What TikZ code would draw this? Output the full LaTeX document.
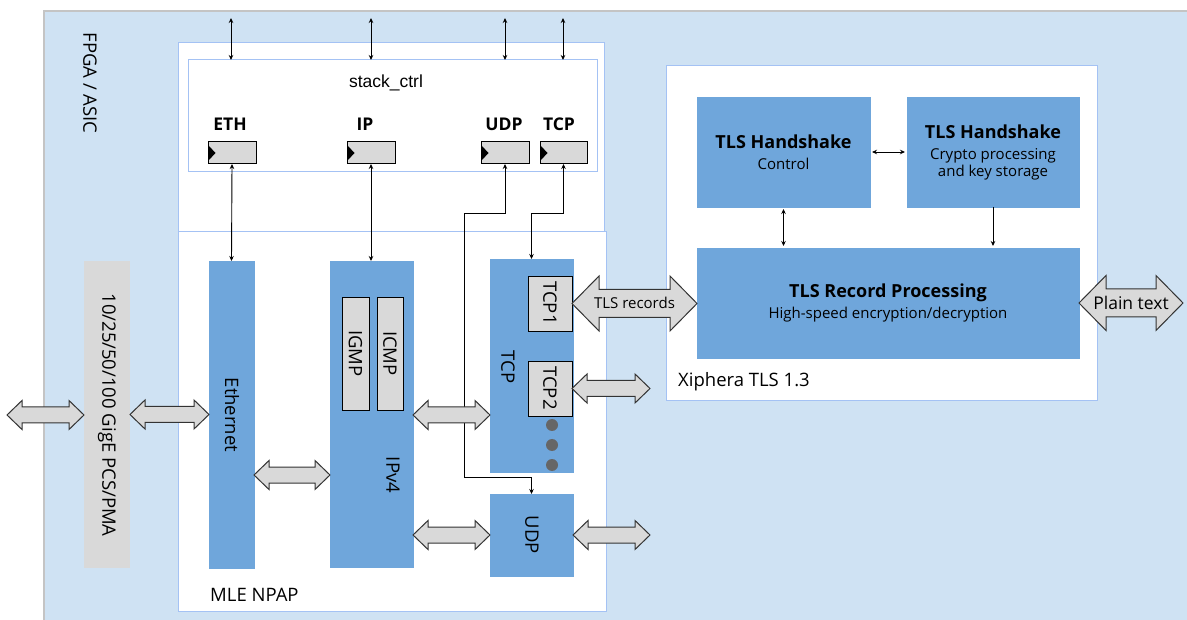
\documentclass[tikz,border=0pt]{standalone}
\usepackage{fontspec}
\setmainfont{Open Sans}
\newfontfamily\arialf{Liberation Sans}
\usetikzlibrary{calc,arrows.meta}
\definecolor{bgblue}{HTML}{CFE2F3}
\definecolor{blkblue}{HTML}{6FA6DB}
\definecolor{boxgray}{HTML}{D9D9D9}
\definecolor{lineblue}{HTML}{A4C2F4}
\definecolor{dotgray}{HTML}{666666}
\definecolor{framegray}{HTML}{C4C4C4}
\newcommand\fbig{\fontsize{18}{21}\selectfont}
\newcommand\fsub{\fontsize{15}{17}\selectfont}
\newcommand\fatarrow[6]{%
  \draw[#1] let \p1=(#2), \p2=(#3) in
    (\x1,\y1) -- (\x1+#6pt,\y1+#5pt) -- (\x1+#6pt,\y1+#4pt) -- (\x2-#6pt,\y1+#4pt)
    -- (\x2-#6pt,\y1+#5pt) -- (\x2,\y1) -- (\x2-#6pt,\y1-#5pt) -- (\x2-#6pt,\y1-#4pt)
    -- (\x1+#6pt,\y1-#4pt) -- (\x1+#6pt,\y1-#5pt) -- cycle;}
\begin{document}
\begin{tikzpicture}[x=1pt,y=-1pt,
  box/.style={rectangle, inner sep=0pt, outer sep=0pt},
  whitebox/.style={box, fill=white, draw=lineblue, line width=1pt},
  blue blk/.style={box, fill=blkblue, draw=blkblue},
  reg/.style={box, fill=boxgray, draw=black, line width=1pt, minimum width=48, minimum height=22},
  sub/.style={box, fill=boxgray, draw=black, line width=0.9pt},
  pcs/.style={box, fill=boxgray},
  lbl/.style={inner sep=0pt, font=\fontsize{18.5}{21}\selectfont},
  reglbl/.style={inner sep=0pt, font=\fontsize{17.5}{20}\selectfont\bfseries},
  conn/.style={line width=0.9pt, {Stealth[length=5pt,width=4.5pt]}-{Stealth[length=5pt,width=4.5pt]}},
  conn1/.style={line width=0.9pt, -{Stealth[length=5pt,width=4.5pt]}},
  fat/.style={fill=boxgray, draw=black!80, line width=1pt, line join=miter},
  dot/.style={circle, fill=dotgray, inner sep=0pt, minimum size=12}]
\useasboundingbox (0,0) rectangle (1187,620);
% background
\fill[bgblue] (44,11) rectangle (1187,620);
\draw[framegray, line width=1.5pt] (44,620) -- (44,11) -- (1187,11);
\node[lbl, rotate=-90] (fpga) at (90,83) {FPGA / ASIC};

% MLE NPAP boxes
\node[whitebox, minimum width=426, minimum height=189] (npaptop) at (391,137.5) {};
\node[whitebox, minimum width=428, minimum height=379] (npap) at (392,421.5) {};
\node[lbl, anchor=west] (npaplbl) at (210,595) {MLE NPAP};
\node[whitebox, minimum width=409, minimum height=112] (stack) at (392.5,116) {};
\node[inner sep=0pt, font=\arialf\fontsize{17.5}{20}\selectfont] (stacklbl) at (386,83) {stack\_ctrl};

% registers
\node[reg] (ethreg) at (232,153) {};
\node[reg] (ipreg) at (371,153) {};
\node[reg] (udpreg) at (505,153) {};
\node[reg, minimum width=47] (tcpreg) at (563.5,153) {};
\foreach \r in {ethreg,ipreg,udpreg,tcpreg}{
  \fill[black] ($(\r.west)+(1,-7)$) -- ++(0,14) -- ++(6.5,-7) -- cycle;}
\node[reglbl] (ethlbl) at (230,124) {ETH};
\node[reglbl] (iplbl) at (365,124) {IP};
\node[reglbl] (udplbl) at (504,124) {UDP};
\node[reglbl] (tcplbl) at (559,124) {TCP};

% top external arrows
\coordinate (tE) at (231,18);
\coordinate (tI) at (371,18);
\coordinate (tU) at (505,18);
\coordinate (tT) at (563,18);
\foreach \c in {tE,tI,tU,tT}{\draw[conn] (\c) -- (\c |- stack.north);}

% PCS
\node[pcs, minimum width=46, minimum height=307] (pcsblk) at (107,414.5) {};
\node[lbl, rotate=-90] (pcslbl) at (107,415) {10/25/50/100 GigE PCS/PMA};

% Ethernet, IPv4
\node[blue blk, minimum width=45, minimum height=307] (ethblk) at (231.5,414.5) {};
\node[lbl, rotate=-90] (ethtxt) at (232,415) {Ethernet};
\node[blue blk, minimum width=83, minimum height=306] (ipv4) at (371.5,414) {};
\node[sub, minimum width=27, minimum height=113] (igmp) at (355.5,353.5) {};
\node[sub, minimum width=26, minimum height=113] (icmp) at (390,353.5) {};
\node[lbl, rotate=-90] (igmptxt) at (355.5,353.5) {IGMP};
\node[lbl, rotate=-90] (icmptxt) at (390,353.5) {ICMP};
\node[lbl, rotate=-90] (ipv4txt) at (393,475) {IPv4};

% TCP, UDP
\node[blue blk, minimum width=83, minimum height=213] (tcpblk) at (531.5,365.5) {};
\node[lbl, rotate=-90] (tcptxt) at (508,367) {TCP};
\node[sub, minimum width=44, minimum height=55] (tcp1) at (550,303.5) {};
\node[sub, minimum width=44, minimum height=55] (tcp2) at (550,388.5) {};
\node[lbl, rotate=-90] (tcp1txt) at (550,303) {TCP1};
\node[lbl, rotate=-90] (tcp2txt) at (550,388) {TCP2};
\node[dot] (d1) at (552,425) {};
\node[dot] (d2) at (552,445) {};
\node[dot] (d3) at (552,465) {};
\node[blue blk, minimum width=83, minimum height=82] (udpblk) at (531.5,535) {};
\node[lbl, rotate=-90] (udptxt) at (532,535) {UDP};

% register connectors
\draw[conn] (ethreg.south) -- (ethblk.north);
\draw[conn] (ipreg.south) -- (ipreg.south |- ipv4.north);
\coordinate (udpbend) at (464,477);
\draw[conn] (udpreg.south) -- ++(0,49) -| (udpbend) -| (udpblk.north);
\draw[conn] (tcpreg.south) -- ++(0,49) -| (tcpblk.north);

% TLS
\node[whitebox, minimum width=431, minimum height=335] (tls) at (881.5,233.5) {};
\node[lbl, anchor=west] (tlslbl) at (678,382) {Xiphera TLS 1.3};
\node[blue blk, minimum width=173, minimum height=110, align=center, font=\fsub] (hsc) at (783.5,152)
  {{\fbig\bfseries TLS Handshake}\\[4pt]Control};
\node[blue blk, minimum width=172, minimum height=110, align=center, font=\fsub] (hsk) at (993,152)
  {{\fbig\bfseries TLS Handshake}\\[4pt]Crypto processing\\and key storage};
\node[blue blk, minimum width=382, minimum height=110, align=center, font=\fsub] (rec) at (888,303)
  {{\fbig\bfseries TLS Record Processing}\\[4pt]High-speed encryption/decryption};
\draw[conn, shorten <=2pt, shorten >=2pt] (hsc.east) -- (hsk.west);
\draw[conn, shorten <=2pt, shorten >=2pt] (hsc.south) -- (hsc.south |- rec.north);
\draw[conn1, shorten >=2pt] (hsk.south) -- (hsk.south |- rec.north);

% fat arrows
\coordinate (extL) at (7,415);
\coordinate (yEI) at (0,475);
\coordinate (yIT) at (0,415);
\coordinate (yIU) at (0,535);
\coordinate (extT2) at (650,388.5);
\coordinate (extU) at (650,535);
\coordinate (extP) at (1183,303);
\fatarrow{fat}{extL}{pcsblk.west}{8}{14.5}{15}
\fatarrow{fat}{pcsblk.east}{ethblk.west}{8}{14.5}{15}
\fatarrow{fat}{ethblk.east |- yEI}{ipv4.west |- yEI}{8}{14.5}{15}
\fatarrow{fat}{ipv4.east |- yIT}{tcpblk.west |- yIT}{8}{14.5}{15}
\fatarrow{fat}{ipv4.east |- yIU}{udpblk.west |- yIU}{8}{14.5}{15}
\fatarrow{fat}{tcp2.east}{extT2}{8}{14.5}{15}
\fatarrow{fat}{udpblk.east}{extU}{8}{14.5}{15}
\fatarrow{fat}{tcp1.east}{rec.west |- tcp1.east}{14}{27.5}{27}
\fatarrow{fat}{rec.east}{extP}{14}{27.5}{27}
\node[inner sep=0pt, font=\fsub] (tlsrec) at (634.5,303) {TLS records};
\node[inner sep=0pt, font=\fontsize{17.5}{20}\selectfont] (plain) at (1131,303) {Plain text};
\end{tikzpicture}
\end{document}
